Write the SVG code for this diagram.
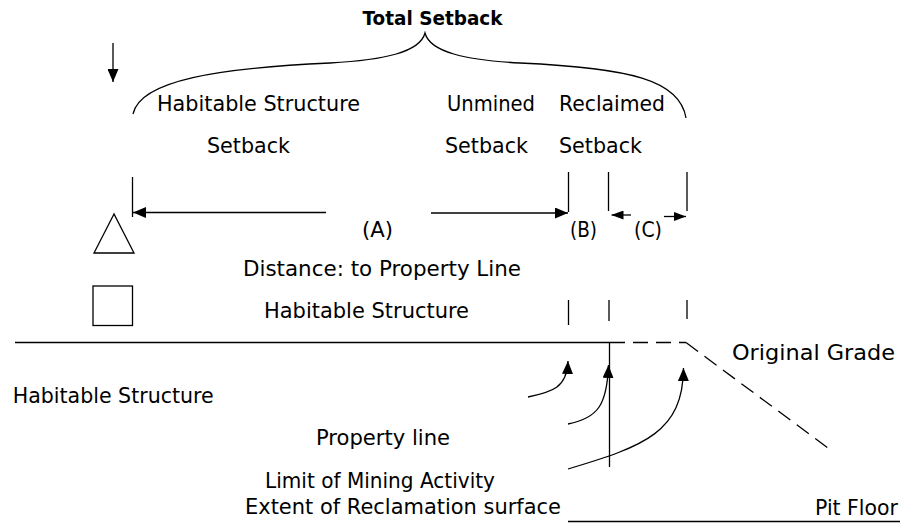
<svg xmlns="http://www.w3.org/2000/svg" width="903" height="524" viewBox="0 0 903 524">
  <style>
    .t { font-family: "DejaVu Sans", "Noto Sans", sans-serif; font-size: 22px; fill: #000; }
    .b { font-family: "DejaVu Sans", "Noto Sans", sans-serif; font-size: 20px; font-weight: bold; fill: #000; }
    .ln { stroke: #000; stroke-width: 1.3; fill: none; }
    .dash { stroke: #000; stroke-width: 1.3; fill: none; stroke-dasharray: 15 8; }
    .sh { stroke: #000; stroke-width: 1.3; fill: #fff; }
  </style>
  <defs>
    <marker id="ah" viewBox="0 0 13 11" refX="13" refY="5.5" markerWidth="13" markerHeight="11" markerUnits="userSpaceOnUse" orient="auto">
      <path d="M0,0 L13,5.5 L0,11 Z" fill="#000"/>
    </marker>
    <marker id="ahs" viewBox="0 0 12 9" refX="12" refY="4.5" markerWidth="12" markerHeight="9" markerUnits="userSpaceOnUse" orient="auto">
      <path d="M0,0 L12,4.5 L0,9 Z" fill="#000"/>
    </marker>
  </defs>
  <rect width="903" height="524" fill="#fff"/>

  <g id="title">
    <text class="b" x="362.5" y="25" textLength="140" lengthAdjust="spacingAndGlyphs">Total Setback</text>
  </g>

  <g id="brace">
    <path class="ln" d="M133,114 C140,80 220,68 330,63 C385,60 420,52 425,33 C430,52 465,60 520,63 C630,68 680,80 686,118"/>
  </g>

  <g id="label-habitable-setback">
    <text class="t" x="157" y="111" textLength="203" lengthAdjust="spacingAndGlyphs">Habitable Structure</text>
    <text class="t" x="207" y="153" textLength="83" lengthAdjust="spacingAndGlyphs">Setback</text>
  </g>
  <g id="label-unmined-setback">
    <text class="t" x="447" y="111" textLength="88" lengthAdjust="spacingAndGlyphs">Unmined</text>
    <text class="t" x="445" y="153" textLength="83" lengthAdjust="spacingAndGlyphs">Setback</text>
  </g>
  <g id="label-reclaimed-setback">
    <text class="t" x="559" y="111" textLength="106" lengthAdjust="spacingAndGlyphs">Reclaimed</text>
    <text class="t" x="559" y="153" textLength="83" lengthAdjust="spacingAndGlyphs">Setback</text>
  </g>

  <g id="dim-labels">
    <text class="t" x="362" y="237" textLength="31" lengthAdjust="spacingAndGlyphs">(A)</text>
    <text class="t" x="570" y="237" textLength="27" lengthAdjust="spacingAndGlyphs">(B)</text>
    <text class="t" x="634" y="237" textLength="28" lengthAdjust="spacingAndGlyphs">(C)</text>
  </g>

  <g id="legend-triangle">
    <polygon class="sh" points="114,214 94,253 134,253"/>
    <text class="t" x="243" y="276" textLength="278" lengthAdjust="spacingAndGlyphs">Distance: to Property Line</text>
  </g>
  <g id="legend-square">
    <rect class="sh" x="93" y="286" width="39.5" height="39.5"/>
    <text class="t" x="264" y="318" textLength="205" lengthAdjust="spacingAndGlyphs">Habitable Structure</text>
  </g>

  <g id="label-habitable-structure">
    <text class="t" x="12.7" y="403" textLength="201" lengthAdjust="spacingAndGlyphs">Habitable Structure</text>
  </g>
  <g id="label-original-grade">
    <text class="t" x="732" y="360" textLength="163" lengthAdjust="spacingAndGlyphs">Original Grade</text>
  </g>
  <g id="label-property-line">
    <text class="t" x="316" y="445" textLength="134" lengthAdjust="spacingAndGlyphs">Property line</text>
  </g>
  <g id="label-limit-mining">
    <text class="t" x="265" y="488" textLength="230" lengthAdjust="spacingAndGlyphs">Limit of Mining Activity</text>
  </g>
  <g id="label-extent-reclamation">
    <text class="t" x="245" y="514" textLength="316" lengthAdjust="spacingAndGlyphs">Extent of Reclamation surface</text>
  </g>
  <g id="label-pit-floor">
    <text class="t" x="815" y="515" textLength="83" lengthAdjust="spacingAndGlyphs">Pit Floor</text>
  </g>

  <g id="ground">
    <line class="ln" x1="15" y1="342.5" x2="610" y2="342.5"/>
    <line class="dash" x1="610" y1="342.5" x2="686" y2="342.5"/>
    <line class="dash" x1="686" y1="342.5" x2="828" y2="448"/>
    <line class="ln" x1="568" y1="521.5" x2="900" y2="521.5"/>
    <line class="ln" x1="609.5" y1="342.5" x2="609.5" y2="467"/>
  </g>

  <g id="connectors">
    <line class="ln" x1="113" y1="43" x2="113" y2="82" marker-end="url(#ah)"/>
    <line class="ln" x1="132.5" y1="177" x2="132.5" y2="217"/>
    <line class="ln" x1="568.5" y1="172" x2="568.5" y2="212"/>
    <line class="ln" x1="608.5" y1="172" x2="608.5" y2="211"/>
    <line class="ln" x1="687" y1="172" x2="687" y2="211"/>
    <line class="ln" x1="326" y1="212.5" x2="133" y2="212.5" marker-end="url(#ah)"/>
    <line class="ln" x1="431" y1="213" x2="568" y2="213" marker-end="url(#ah)"/>
    <line class="ln" x1="631" y1="215" x2="611.5" y2="215" marker-end="url(#ahs)"/>
    <line class="ln" x1="664" y1="216.5" x2="686" y2="216.5" marker-end="url(#ahs)"/>
    <line class="ln" x1="568.5" y1="300" x2="568.5" y2="325"/>
    <line class="ln" x1="609" y1="300" x2="609" y2="321"/>
    <line class="ln" x1="687" y1="300" x2="687" y2="319"/>
    <path class="ln" d="M528,397 C552,392 567,388 568,361" marker-end="url(#ah)"/>
    <path class="ln" d="M568,424 C598,418 607,405 608.5,365" marker-end="url(#ah)"/>
    <path class="ln" d="M568,469 C645,446 683,432 683.5,368" marker-end="url(#ah)"/>
  </g>
</svg>
